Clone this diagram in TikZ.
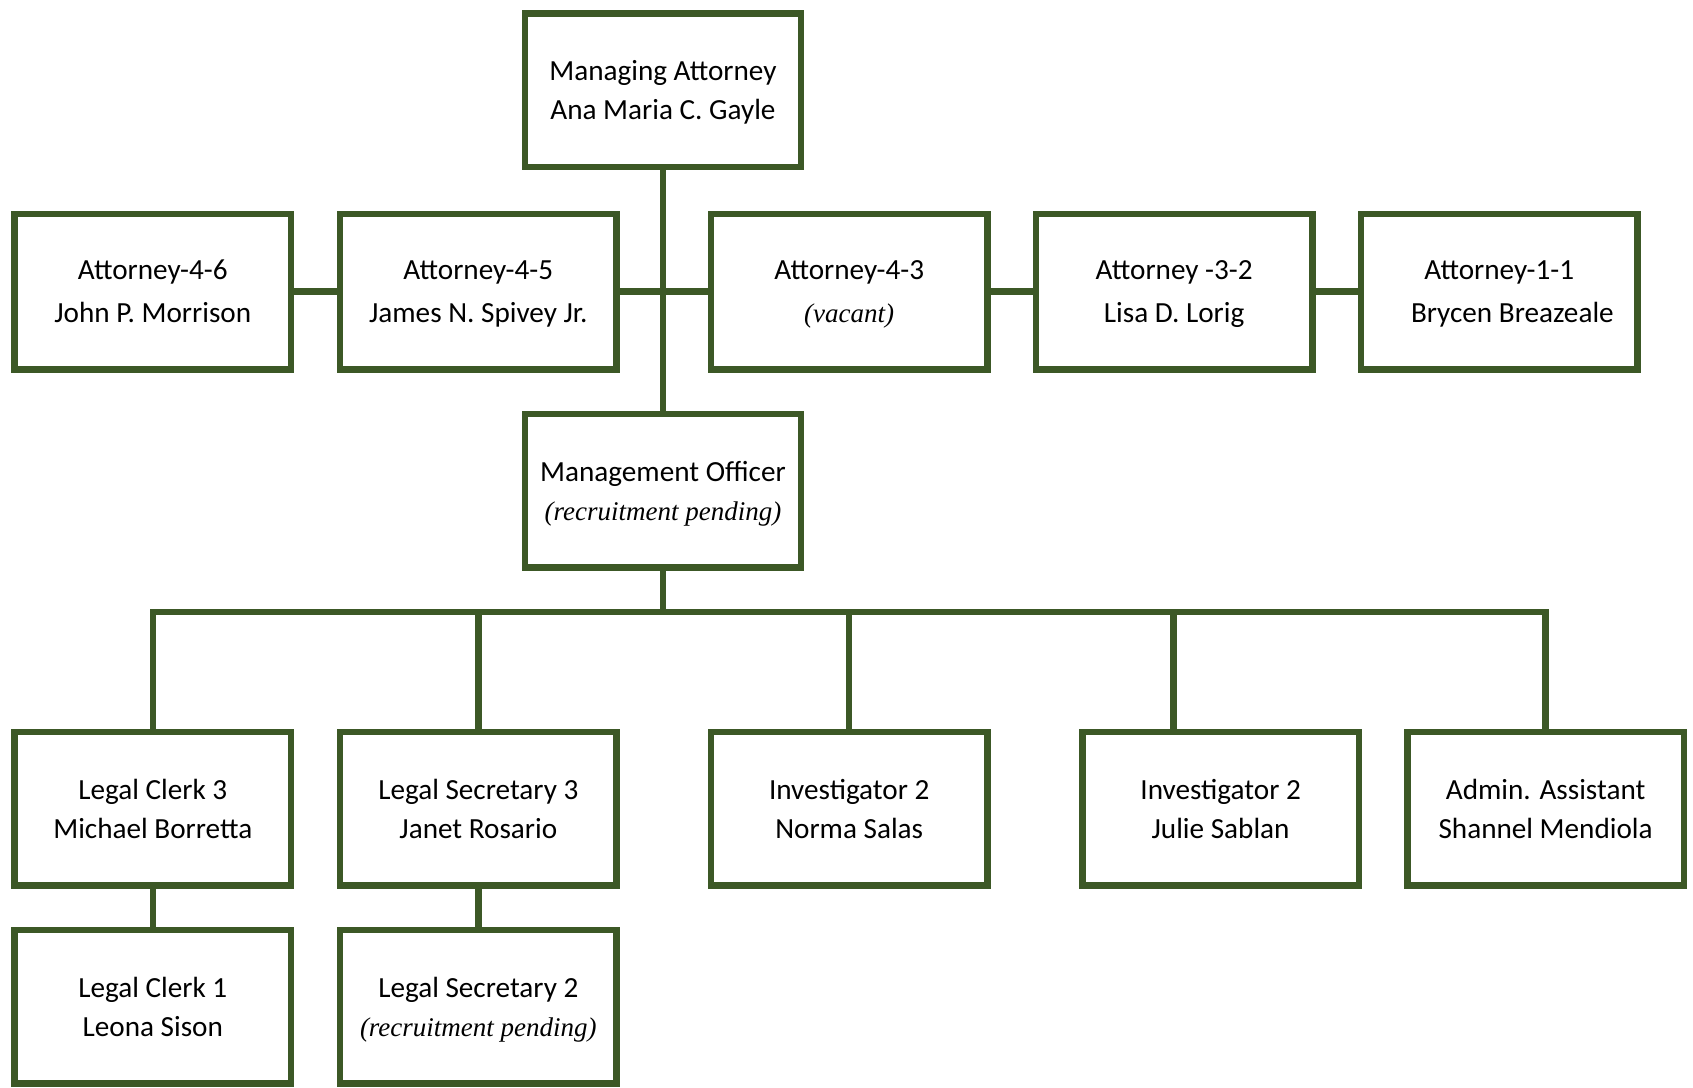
\documentclass[tikz,border=0pt]{standalone}
\usepackage{fontspec}
\setmainfont{Carlito}
\newfontfamily\tnr{Liberation Serif}
\newcommand{\itl}[1]{{\tnr\itshape\fontsize{13.5}{19.4}\selectfont #1}}
\definecolor{og}{RGB}{60,88,38}
\begin{document}
\begin{tikzpicture}[x=0.54pt,y=-0.54pt,
  box/.style={draw=og,line width=3.2pt,minimum width=138.2pt,minimum height=76.7pt,
    align=center,inner sep=0pt,text depth=0pt,font=\fontsize{14.6}{19.4}\selectfont},
  tallbox/.style={box,minimum height=77.8pt,font=\fontsize{14.6}{21.5}\selectfont},
  conn/.style={draw=og,line width=3.2pt,line join=miter}]
\useasboundingbox (0,0) rectangle (1568,1007);
% top
\node[box] (ma) at (614,83.5) {Managing Attorney\\Ana Maria C. Gayle};
% attorneys
\node[tallbox] (a46) at (141.5,270) {Attorney-4-6\\John P. Morrison};
\node[tallbox] (a45) at (443,270) {Attorney-4-5\\James N. Spivey Jr.};
\node[tallbox] (a43) at (786.5,270) {Attorney-4-3\\\itl{(vacant)}};
\node[tallbox] (a32) at (1087.5,270) {Attorney -3-2\\Lisa D. Lorig};
\node[tallbox] (a11) at (1388.5,270) {Attorney-1-1\\\hspace*{0.9em}Brycen Breazeale};
% management officer
\node[box] (mo) at (614,454.5) {Management Officer\\\itl{(recruitment pending)}};
% staff
\node[box] (lc3) at (141.5,749) {Legal Clerk 3\\Michael Borretta};
\node[box] (ls3) at (443,749) {Legal Secretary 3\\Janet Rosario};
\node[box] (inv) at (786.5,749) {Investigator 2\\Norma Salas};
\node[box] (inv2) at (1130.5,749) {Investigator 2\\Julie Sablan};
\node[box] (adm) at (1431.5,749) {Admin. Assistant\\Shannel Mendiola};
\node[box] (lc1) at (141.5,932.5) {Legal Clerk 1\\Leona Sison};
\node[box] (ls2) at (443,932.5) {Legal Secretary 2\\\itl{(recruitment pending)}};
% connectors
\coordinate (bus) at (614,567);
\coordinate (busJ) at (1087,567);
\draw[conn] (ma.south) -- (mo.north);
\draw[conn] (a46.east) -- (a45.west);
\draw[conn] (a45.east) -- (a43.west);
\draw[conn] (a43.east) -- (a32.west);
\draw[conn] (a32.east) -- (a11.west);
\draw[conn] (mo.south) -- (bus);
\draw[conn] (lc3.north) -- (lc3.north |- bus) -- (adm.north |- bus) -- (adm.north);
\draw[conn] (ls3.north |- bus) -- (ls3.north);
\draw[conn] (inv.north |- bus) -- (inv.north);
\draw[conn] (busJ) -- (busJ |- inv2.north);
\draw[conn] (lc3.south) -- (lc1.north);
\draw[conn] (ls3.south) -- (ls2.north);
\end{tikzpicture}
\end{document}
